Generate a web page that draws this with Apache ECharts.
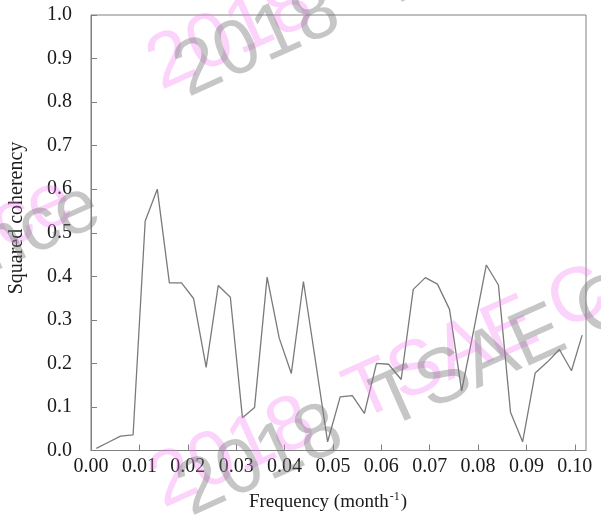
<!DOCTYPE html>
<html>
<head>
<meta charset="utf-8">
<script src="https://cdn.jsdelivr.net/npm/echarts@6/dist/echarts.min.js"></script>
<style>
  html, body { margin: 0; padding: 0; background: #fff; }
  #chart { width: 601px; height: 517px; }
</style>
</head>
<body>
<div id="chart"></div>
<script>
// Frequency (month^-1) of each coherency estimate
const frequency = [
  0.0011, 0.0036, 0.0061, 0.0087, 0.0112, 0.0137, 0.0162, 0.0187, 0.0212, 0.0238,
  0.0263, 0.0288, 0.0313, 0.0338, 0.0364, 0.0389, 0.0414, 0.0439, 0.0464, 0.0489,
  0.0515, 0.0540, 0.0565, 0.0590, 0.0615, 0.0641, 0.0666, 0.0691, 0.0716, 0.0741,
  0.0766, 0.0792, 0.0817, 0.0842, 0.0867, 0.0892, 0.0918, 0.0943, 0.0968, 0.0993,
  0.1015
];

// Squared coherency at each frequency
const coherency = [
  0.005, 0.019, 0.033, 0.036, 0.527, 0.600, 0.385, 0.385, 0.349, 0.191,
  0.379, 0.352, 0.075, 0.099, 0.398, 0.258, 0.177, 0.388, 0.205, 0.020,
  0.123, 0.126, 0.085, 0.200, 0.198, 0.163, 0.370, 0.397, 0.382, 0.324,
  0.137, 0.282, 0.426, 0.380, 0.088, 0.020, 0.178, 0.203, 0.232, 0.183,
  0.265
];

// Axis ranges and tick spacing
const xRange = [0, 0.1023];
const xStep = 0.01;
const yRange = [0, 1.0];
const yStep = 0.1;

// Titles
const xTitle = ['Frequency (month', '-1', ')'];
const yTitle = 'Squared coherency';
const stamp = '2018  TSAE Conference';

const axisGray = '#808080';
const serif = '"Liberation Serif", "Times New Roman", serif';

const chart = echarts.init(document.getElementById('chart'), null, { renderer: 'canvas' });

const pairs = frequency.map((f, i) => [f, coherency[i]]);

// Diagonal stamp text laid over the plot
function stampText(x, y, color, align) {
  return {
    type: 'text',
    x: x, y: y,
    rotation: 0.42,
    z: 100,
    silent: true,
    style: {
      text: stamp,
      fill: color,
      font: '77px "Liberation Sans", Arial, sans-serif',
      textAlign: align,
      textVerticalAlign: 'bottom'
    }
  };
}

const pink = 'rgba(244, 120, 244, 0.33)';
const gray = 'rgba(120, 120, 120, 0.42)';

const option = {
  backgroundColor: '#ffffff',
  animation: false,
  grid: {
    left: 91, top: 15, width: 495, height: 435.5,
    show: true, borderColor: axisGray, borderWidth: 1,
    containLabel: false
  },
  xAxis: {
    type: 'value',
    min: xRange[0], max: xRange[1], interval: xStep,
    axisLine: { show: true, lineStyle: { color: axisGray, width: 1 } },
    axisTick: { show: true, inside: true, length: 6, lineStyle: { color: axisGray } },
    splitLine: { show: false },
    axisLabel: {
      margin: 6,
      color: '#1a1a1a',
      fontFamily: serif,
      fontSize: 20,
      showMaxLabel: false,
      formatter: v => v.toFixed(2)
    }
  },
  yAxis: {
    type: 'value',
    min: yRange[0], max: yRange[1], interval: yStep,
    axisLine: { show: true, lineStyle: { color: axisGray, width: 1 } },
    axisTick: { show: true, inside: true, length: 6, lineStyle: { color: axisGray } },
    splitLine: { show: false },
    axisLabel: {
      margin: 19,
      color: '#1a1a1a',
      fontFamily: serif,
      fontSize: 20,
      formatter: v => v.toFixed(1)
    }
  },
  series: [{
    type: 'line',
    data: pairs,
    symbol: 'none',
    smooth: false,
    lineStyle: { color: '#7a7a7a', width: 1.3 },
    z: 3
  }],
  graphic: [
    {
      type: 'text',
      x: 17, y: 218,
      rotation: Math.PI / 2,
      style: {
        text: yTitle,
        fill: '#1a1a1a',
        font: '20px ' + serif,
        textAlign: 'center',
        textVerticalAlign: 'middle'
      }
    },
    {
      type: 'text',
      x: 328, y: 502,
      style: {
        text: '{a|' + xTitle[0] + '}{s|' + xTitle[1] + '}{a|' + xTitle[2] + '}',
        textAlign: 'center',
        textVerticalAlign: 'middle',
        rich: {
          a: { fontFamily: serif, fontSize: 19, lineHeight: 22, fill: '#1a1a1a', verticalAlign: 'middle' },
          s: { fontFamily: serif, fontSize: 12, lineHeight: 22, fill: '#1a1a1a', verticalAlign: 'top', padding: [0, 1, 0, 1] }
        }
      }
    },
    stampText(168, 106, pink, 'left'),
    stampText(195, 113, gray, 'left'),
    stampText(85, 232, pink, 'right'),
    stampText(112, 238, gray, 'right'),
    stampText(170, 524, pink, 'left'),
    stampText(198, 532, gray, 'left')
  ]
};

chart.setOption(option);
</script>
</body>
</html>
